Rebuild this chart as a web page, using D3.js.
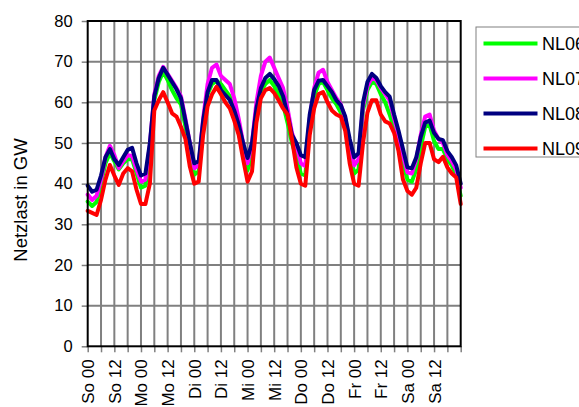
<!DOCTYPE html>
<html>
<head>
<meta charset="utf-8">
<script src="https://cdn.jsdelivr.net/npm/d3@7"></script>
<style>
  html, body { margin: 0; padding: 0; background: #fff; }
  svg { display: block; font-family: "Liberation Sans", Arial, sans-serif; }
</style>
</head>
<body>
<svg id="chart" width="579" height="407"></svg>
<script>
// Hours of the week, every 2 h from Sunday 00:00 to the following Sunday 00:00
const hours = d3.range(0, 169, 2);

const seriesNames = ["NL06", "NL07", "NL08", "NL09"];
const seriesColors = ["#00ff00", "#ff00ff", "#000080", "#ff0000"];

// Grid load in GW
const nl06 = [35.6, 34.5, 35.5, 40, 45, 47.5, 45.5, 43.5, 45, 46, 46, 42.5, 39, 39.5, 48, 60.5, 65, 67.5,
  65.5, 63, 61, 59.5, 54, 48, 42.2, 43, 54.5, 62, 64.5, 65.3, 64.5, 63, 61.5, 58, 53, 47.5, 43.3, 47,
  57, 62.5, 64.5, 65.5, 64, 62, 59.5, 55, 50, 46.5, 42.5, 42, 54, 61.5, 64.5, 65, 63, 61, 59.5, 57.5,
  54, 48, 42.5, 43.5, 58, 63, 65, 64.5, 62, 60, 57, 53.5, 50, 45, 41, 40.5, 43.5, 49, 54, 54.4, 50.5,
  48.5, 48.5, 46, 44.5, 42, 37];
const nl07 = [37.3, 36, 37, 41, 46.5, 49.3, 47, 43.8, 45.5, 47, 46.8, 43.5, 40.5, 41, 49.5, 62, 66.5, 68.7,
  67, 65.3, 63.5, 61.5, 56, 50, 43.8, 44.5, 56, 64.5, 68.5, 69.3, 66.5, 65.5, 64.5, 61, 56, 50, 45, 50,
  60, 66.5, 70, 71, 68.5, 66, 63.5, 58.5, 52.5, 49.5, 45, 44.3, 56, 63.5, 67.3, 68, 65, 63, 61, 59.5,
  56, 50, 44.5, 46, 59, 64, 66, 65.5, 63.5, 62, 60.5, 56, 52, 47, 42.8, 42.5, 46, 52, 56.5, 57, 53,
  51, 50, 47, 45.5, 43.5, 39];
const nl08 = [39.5, 38, 38.5, 42, 46.5, 48.5, 46, 44.6, 46.5, 48.3, 48.8, 45, 42, 42.5, 50, 61.5, 66, 68.5,
  66.8, 65, 63.2, 61, 55.5, 50, 45, 45.5, 55.5, 62.5, 65.5, 65.5, 63, 61.8, 60.6, 58, 54.5, 50, 46.3, 50,
  58.5, 63.5, 66, 67, 65.7, 64, 61.5, 57, 52, 50, 47, 46.5, 57, 63, 65.3, 65.5, 64, 62.5, 60.5, 59.3,
  56.5, 51, 46.5, 47.5, 60, 65, 67, 66, 64, 62.5, 61.4, 57, 53, 48.5, 44, 43.8, 46.5, 51.5, 55, 55.5, 52.5,
  51, 50.7, 48, 46.5, 44.5, 40];
const nl09 = [33.3, 32.8, 32.3, 36, 41, 44.6, 42, 39.7, 42.5, 43.8, 43, 38.5, 35, 35, 40, 58, 60.5, 62.5,
  60, 57.3, 56.5, 54, 51, 44.2, 40, 40.5, 52, 59, 62, 63.8, 62, 60, 58.5, 55.5, 52, 46, 40.5, 43,
  55, 61, 63, 63.5, 62.3, 60.5, 58.5, 57, 51, 44, 40, 39.5, 52, 58.5, 62, 62.5, 60, 58, 57, 56.5,
  53, 45, 40, 39.5, 50, 57.5, 60.5, 60.5, 57, 55.3, 54.8, 52.5, 48, 41, 38.2, 37.3, 39, 45, 50, 50, 46,
  45.3, 46.6, 44, 42.5, 41.5, 35];
const seriesValues = [nl06, nl07, nl08, nl09];

// Axis ticks
const yTicks = [0, 10, 20, 30, 40, 50, 60, 70, 80];
const xTicks = d3.range(0, 169, 6);
const xTickLabels = ["So 00", "So 12", "Mo 00", "Mo 12", "Di 00", "Di 12", "Mi 00", "Mi 12",
  "Do 00", "Do 12", "Fr 00", "Fr 12", "Sa 00", "Sa 12"];
const yTitle = "Netzlast in GW";

const svg = d3.select("#chart");
const plotLeft = 87.7, plotRight = 460.7, plotTop = 21, plotBottom = 346.3;

const x = d3.scaleLinear().domain([0, 168]).range([plotLeft, plotRight]);
const y = d3.scaleLinear().domain([0, 80]).range([plotBottom, plotTop]);

svg.append("rect").attr("width", 579).attr("height", 407).attr("fill", "#fff");

// Grid
const grid = svg.append("g").attr("stroke", "#808080").attr("stroke-width", 2);
grid.selectAll("line.h").data(yTicks.slice(1, -1)).join("line")
  .attr("class", "h")
  .attr("x1", plotLeft).attr("x2", plotRight)
  .attr("y1", d => y(d)).attr("y2", d => y(d));
grid.selectAll("line.v").data(xTicks.slice(1, -1)).join("line")
  .attr("class", "v")
  .attr("y1", plotTop).attr("y2", plotBottom)
  .attr("x1", d => x(d)).attr("x2", d => x(d));

// Y axis
const yAxis = svg.append("g")
  .attr("transform", `translate(${plotLeft},0)`)
  .call(d3.axisLeft(y).tickValues(yTicks).tickSize(6).tickPadding(9).tickFormat(d3.format("d")));
yAxis.select(".domain").remove();
yAxis.selectAll(".tick line").attr("stroke", "#808080").attr("stroke-width", 1.5);
yAxis.selectAll(".tick text").attr("font-size", 16.5).attr("fill", "#000")
  .attr("font-family", "Liberation Sans, Arial, sans-serif");

// X axis
const xAxis = svg.append("g")
  .attr("transform", `translate(0,${plotBottom})`)
  .call(d3.axisBottom(x).tickValues(xTicks).tickSize(6)
    .tickFormat(d => (d % 12 === 0 && d < 168) ? xTickLabels[d / 12] : ""));
xAxis.select(".domain").remove();
xAxis.selectAll(".tick line").attr("stroke", "#808080").attr("stroke-width", 1.5);
xAxis.selectAll(".tick text")
  .attr("font-size", 17).attr("fill", "#000")
  .attr("font-family", "Liberation Sans, Arial, sans-serif")
  .attr("text-anchor", "end")
  .attr("transform", "rotate(-90)")
  .attr("x", -13).attr("y", 0).attr("dy", "0.35em");

// Series lines
const line = d3.line().x((d, i) => x(hours[i])).y(d => y(d));
svg.append("g").selectAll("path").data(seriesValues).join("path")
  .attr("d", line)
  .attr("fill", "none")
  .attr("stroke", (d, i) => seriesColors[i])
  .attr("stroke-width", 4)
  .attr("stroke-linejoin", "round")
  .attr("stroke-linecap", "round");

// Plot frame
svg.append("rect")
  .attr("x", plotLeft).attr("y", plotTop)
  .attr("width", plotRight - plotLeft).attr("height", plotBottom - plotTop)
  .attr("fill", "none").attr("stroke", "#000").attr("stroke-width", 2);

// Y title
svg.append("text")
  .attr("transform", "translate(27,200) rotate(-90)")
  .attr("text-anchor", "middle")
  .attr("font-size", 18.5)
  .text(yTitle);

// Legend
const legend = svg.append("g").attr("transform", "translate(476,27)");
legend.append("rect").attr("x", 0).attr("y", 0).attr("width", 130).attr("height", 130)
  .attr("fill", "#fff").attr("stroke", "#808080").attr("stroke-width", 1);
const items = legend.selectAll("g.item").data(seriesNames).join("g")
  .attr("class", "item")
  .attr("transform", (d, i) => `translate(0,${16.5 + i * 35})`);
items.append("line").attr("x1", 7.5).attr("x2", 61.5)
  .attr("stroke", (d, i) => seriesColors[i]).attr("stroke-width", 4);
items.append("text").attr("x", 66).attr("dy", "0.35em").attr("font-size", 18).text(d => d);
</script>
</body>
</html>
